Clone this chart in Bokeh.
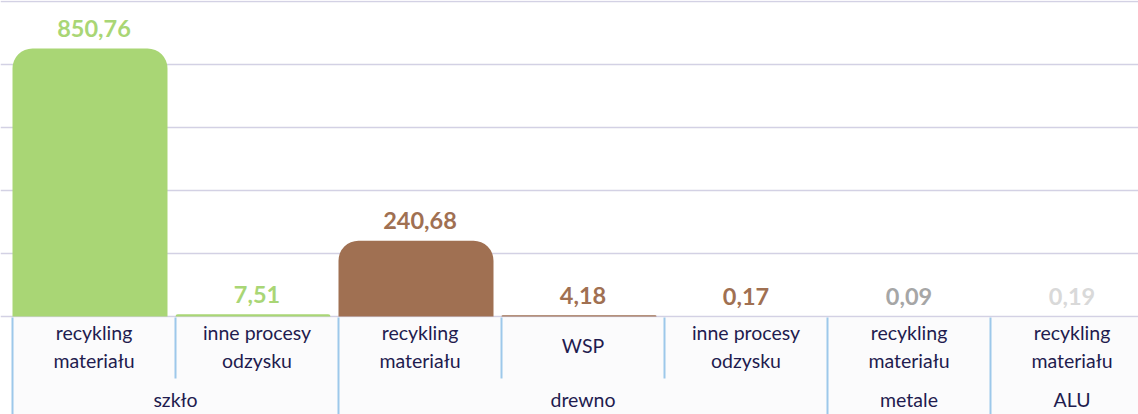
from bokeh.plotting import figure
from bokeh.models import Range1d, FixedTicker, ColumnDataSource
from bokeh.core.properties import value
from bokeh.embed import file_html
from bokeh.resources import INLINE

# ---- data ----
groups = ["szkło", "szkło", "drewno", "drewno", "drewno", "metale", "ALU"]
subs = ["recykling\nmateriału", "inne procesy\nodzysku", "recykling\nmateriału", "WSP",
        "inne procesy\nodzysku", "recykling\nmateriału", "recykling\nmateriału"]
values = [850.76, 7.51, 240.68, 4.18, 0.17, 0.09, 0.19]
value_labels = ["850,76", "7,51", "240,68", "4,18", "0,17", "0,09", "0,19"]
bar_colors = ["#a9d675", "#a9d675", "#a07052", "#a07052", "#a07052", "#a6a6a6", "#d9d9d9"]
grid_ticks = [0, 200, 400, 600, 800, 1000]

# ---- layout constants (pixels) ----
CAT_W = 163.0          # px per category
X0 = 12.0              # px of first category edge
BASE = 316.0           # px of zero line
PXU = 315.0 / 1000.0   # px per unit
FIG_W, FIG_H = 1138, 414
U = 1.0 / PXU          # units per px

def yv(py):
    return (BASE - py) * U

p = figure(width=FIG_W, height=FIG_H, output_backend="svg", toolbar_location=None,
           x_range=Range1d((0 - X0) / CAT_W, (FIG_W - X0) / CAT_W),
           y_range=Range1d(yv(FIG_H), yv(0)),
           min_border=0, outline_line_color=None)
p.axis.visible = False
p.xgrid.visible = False
p.ygrid.ticker = FixedTicker(ticks=grid_ticks)
p.ygrid.grid_line_color = "#d3d1e4"
p.ygrid.grid_line_width = 1.3
p.background_fill_color = "white"
p.border_fill_color = "white"

n = len(values)
xc = [i + 0.5 for i in range(n)]

# table background
p.quad(left=[0], right=[n], top=[yv(BASE + 1.5)], bottom=[yv(440)],
       fill_color="#fbfbfc", line_color=None)

# bars
src = ColumnDataSource(dict(x=[c - 4.0 / CAT_W for c in xc], xc=xc, top=values, color=bar_colors,
                            lab=value_labels,
                            ly=[v + 20 * U for v in values]))
p.vbar(x="x", top="top", bottom=0, width=155.0 / CAT_W, fill_color="color", line_color=None,
       source=src, border_radius=(20, 20, 0, 0))

# value labels
p.text(x="xc", y="ly", text="lab", source=src, text_color="color",
       text_font=value("Lato"), text_font_style="bold", text_font_size="23.5px",
       text_align="center", text_baseline="middle")

# separators
sep_x, sep_y0, sep_y1 = [], [], []
for i in range(n + 1):
    full = i == 0 or i == n or groups[i - 1] != groups[i]
    sep_x.append(i)
    sep_y0.append(yv(BASE + 1))
    sep_y1.append(yv(440) if full else yv(378))
p.segment(x0=sep_x, y0=sep_y0, x1=sep_x, y1=sep_y1, line_color="#9dc8ea", line_width=2)

# sub-category labels
tx, ty, tt = [], [], []
for i, s in enumerate(subs):
    lines = s.split("\n")
    if len(lines) == 2:
        ys = [332, 360]
    else:
        ys = [345]
    for ln, y in zip(lines, ys):
        tx.append(xc[i]); ty.append(yv(y)); tt.append(ln)

# group labels
start = 0
for i in range(1, n + 1):
    if i == n or groups[i] != groups[start]:
        tx.append((start + i) / 2.0); ty.append(yv(399)); tt.append(groups[start])
        start = i

p.text(x=tx, y=ty, text=tt, text_color="#1f1c4f", text_font=value("Lato"),
       text_font_size="19.5px", text_align="center", text_baseline="middle")

open("out.html", "w").write(file_html(p, INLINE))
